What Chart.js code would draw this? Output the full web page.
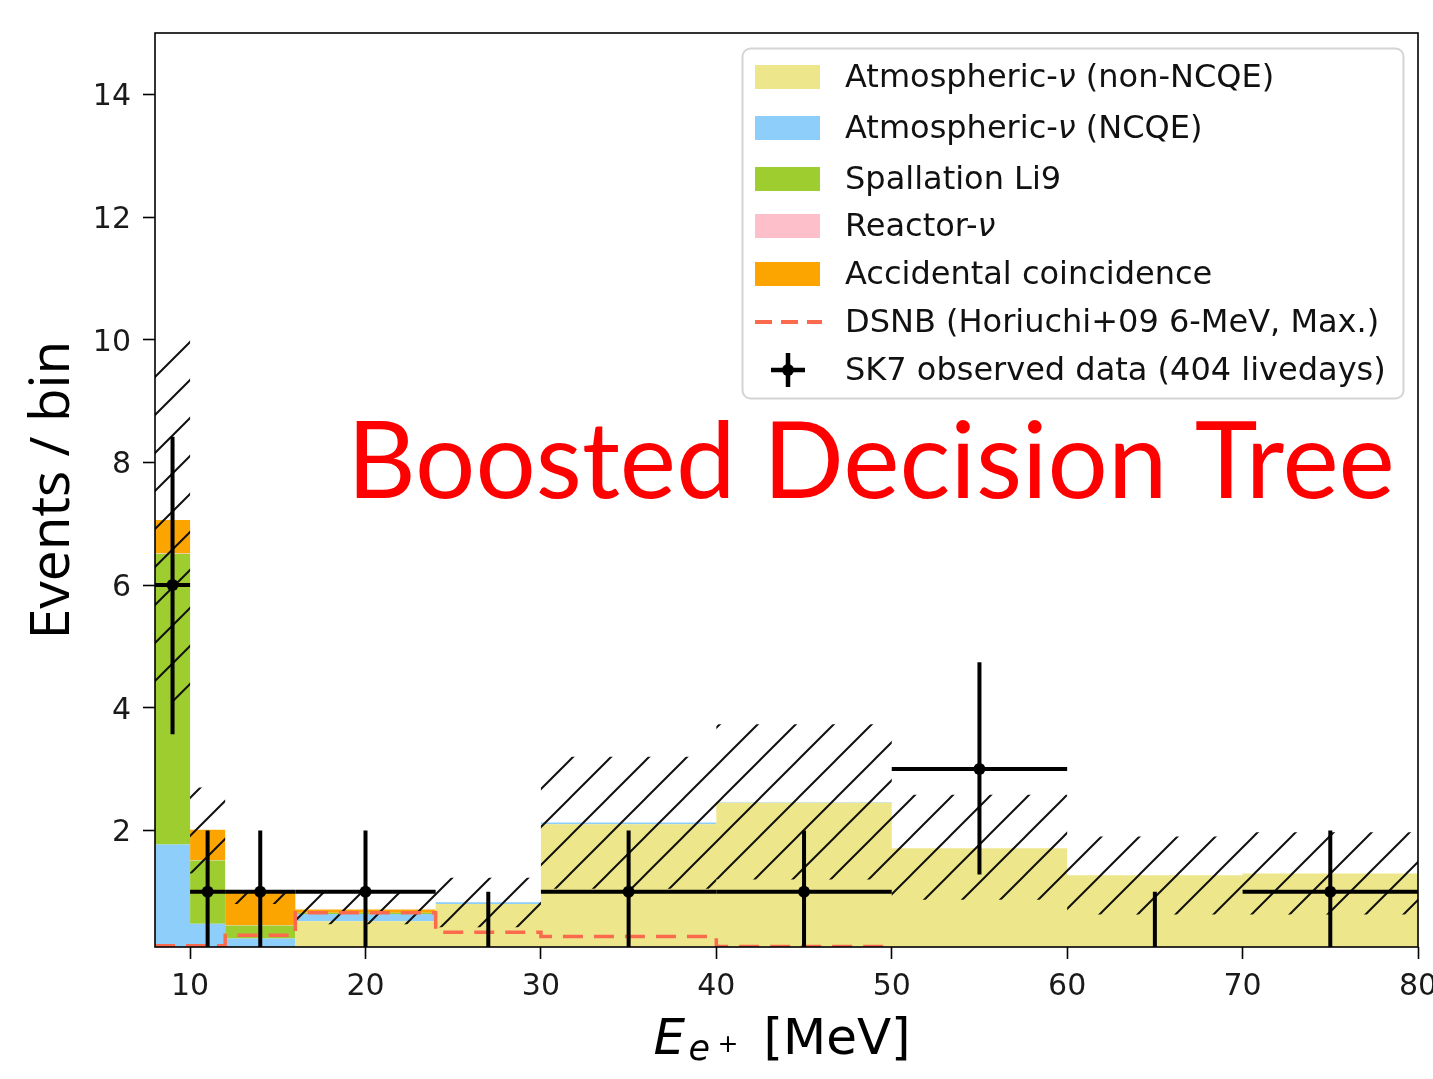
<!DOCTYPE html>
<html>
<head>
<meta charset="utf-8">
<script src="https://cdn.jsdelivr.net/npm/chart.js@4.4.1/dist/chart.umd.min.js"></script>
<style>
    html, body { margin: 0; padding: 0; background: #fff; }
    #wrap { width: 1433px; height: 1079px; }
</style>
</head>
<body>
<div id="wrap"><canvas id="myChart" width="1433" height="1079"></canvas></div>
<script>
// bin edges in MeV
const binEdges = [8, 10, 12, 16, 24, 30, 40, 50, 60, 70, 80];

// expected backgrounds per bin (stacked)
const atmNonNCQE = [0.01, 0.02, 0.02, 0.52, 0.80, 2.10, 2.45, 1.71, 1.27, 1.30];
const atmNCQE    = [1.76, 0.46, 0.22, 0.12, 0.03, 0.03, 0.01, 0.00, 0.00, 0.00];
const spallLi9   = [4.74, 1.03, 0.21, 0.02, 0.00, 0.00, 0.00, 0.00, 0.00, 0.00];
const reactorNu  = [0.01, 0.01, 0.01, 0.00, 0.00, 0.00, 0.00, 0.00, 0.00, 0.00];
const accidental = [0.54, 0.49, 0.55, 0.05, 0.00, 0.00, 0.00, 0.00, 0.00, 0.00];

// uncertainty band (hatched)
const bandLow  = [4.10, 1.30, 0.80, 0.47, 0.42, 1.05, 1.20, 0.87, 0.63, 0.63];
const bandHigh = [10.0, 2.70, 1.03, 0.98, 1.23, 3.20, 3.73, 2.58, 1.90, 1.97];

// signal model
const dsnb = [0.12, 0.12, 0.29, 0.66, 0.34, 0.27, 0.11, 0.06, 0.03, 0.02];

// observed data
const obsX     = [9, 11, 14, 20, 27, 35, 45, 55, 65, 75];
const obsY     = [6, 1, 1, 1, 0, 1, 1, 3, 0, 1];
const obsYLow  = [3.57, 0, 0, 0, 0, 0, 0, 1.28, 0, 0];
const obsYHigh = [8.42, 2, 2, 2, 1, 2, 2, 4.74, 1, 2];

const xTicks = [10, 20, 30, 40, 50, 60, 70, 80];
const yTicks = [2, 4, 6, 8, 10, 12, 14];

const legendRowY = [77, 128, 179, 226, 274, 322, 370];

// histogram values -> stepped line points (left edges + closing right edge)
const stepPoints = (values) => binEdges.map((x, i) => ({ x: x, y: values[Math.min(i, values.length - 1)] }));

const makeHatch = () => {
    const size = 38;
    const c = document.createElement('canvas');
    c.width = size;
    c.height = size;
    const g = c.getContext('2d');
    g.strokeStyle = '#111';
    g.lineWidth = 2;
    g.beginPath();
    g.moveTo(-2, size + 2); g.lineTo(size + 2, -2);
    g.moveTo(-2, 2); g.lineTo(2, -2);
    g.moveTo(size - 2, size + 2); g.lineTo(size + 2, size - 2);
    g.stroke();
    return g.createPattern(c, 'repeat');
};

const ctx = document.getElementById('myChart');

const histDataset = (label, values, color, order, fill) => ({
    label: label,
    data: stepPoints(values),
    stepped: 'before',
    stack: 'bg',
    order: order,
    fill: fill,
    backgroundColor: color,
    borderColor: 'rgba(0,0,0,0)',
    borderWidth: 0,
    pointRadius: 0,
    legendType: 'patch'
});

const errorBarPlugin = {
    id: 'errorBars',
    beforeDatasetDraw: (chart, args) => {
        const ds = chart.data.datasets[args.index];
        if (!ds.errorBars) return;
        const { ctx, chartArea: a, scales: { x, y } } = chart;
        ctx.save();
        ctx.beginPath();
        ctx.rect(a.left, a.top, a.right - a.left, a.bottom - a.top);
        ctx.clip();
        ctx.strokeStyle = '#000';
        ctx.lineWidth = 4;
        ds.data.forEach((p, i) => {
            const py = y.getPixelForValue(p.y);
            const px = x.getPixelForValue(p.x);
            ctx.beginPath();
            ctx.moveTo(x.getPixelForValue(binEdges[i]), py);
            ctx.lineTo(x.getPixelForValue(binEdges[i + 1]), py);
            ctx.moveTo(px, y.getPixelForValue(obsYLow[i]));
            ctx.lineTo(px, y.getPixelForValue(obsYHigh[i]));
            ctx.stroke();
        });
        ctx.restore();
    }
};

const framePlugin = {
    id: 'frame',
    afterDraw: (chart) => {
        const { ctx, chartArea: a } = chart;
        ctx.save();
        ctx.strokeStyle = '#000';
        ctx.lineWidth = 1.6;
        ctx.strokeRect(a.left, a.top, a.right - a.left, a.bottom - a.top);
        ctx.restore();
    }
};

const drawLabelText = (ctx, text, x, y) => {
    const parts = text.split('ν');
    let cx = x;
    parts.forEach((part, i) => {
        ctx.font = '32px "DejaVu Sans"';
        ctx.fillText(part, cx, y);
        cx += ctx.measureText(part).width;
        if (i < parts.length - 1) {
            ctx.font = 'italic 32px "DejaVu Sans"';
            ctx.fillText('ν', cx, y);
            cx += ctx.measureText('ν').width;
        }
    });
};

const legendPlugin = {
    id: 'boxLegend',
    afterDraw: (chart) => {
        const { ctx } = chart;
        const items = chart.data.datasets.filter(d => d.legendType);
        ctx.save();
        ctx.beginPath();
        ctx.roundRect(742.5, 48.5, 661, 350, 8);
        ctx.fillStyle = 'rgba(255,255,255,0.8)';
        ctx.fill();
        ctx.strokeStyle = '#d4d4d4';
        ctx.lineWidth = 2;
        ctx.stroke();
        items.forEach((d, i) => {
            const yc = legendRowY[i];
            if (d.legendType === 'patch') {
                ctx.fillStyle = d.backgroundColor;
                ctx.fillRect(755, yc - 12, 65, 24);
            } else if (d.legendType === 'dash') {
                ctx.strokeStyle = d.borderColor;
                ctx.lineWidth = 4;
                ctx.setLineDash([17, 9]);
                ctx.beginPath();
                ctx.moveTo(755, yc);
                ctx.lineTo(822, yc);
                ctx.stroke();
                ctx.setLineDash([]);
            } else if (d.legendType === 'cross') {
                ctx.strokeStyle = '#000';
                ctx.lineWidth = 4.5;
                ctx.beginPath();
                ctx.moveTo(771, yc); ctx.lineTo(805, yc);
                ctx.moveTo(788, yc - 17); ctx.lineTo(788, yc + 17);
                ctx.stroke();
                ctx.fillStyle = '#000';
                ctx.beginPath();
                ctx.arc(788, yc, 6, 0, Math.PI * 2);
                ctx.fill();
            }
            ctx.fillStyle = '#111';
            ctx.textBaseline = 'middle';
            ctx.textAlign = 'left';
            drawLabelText(ctx, d.label, 845, yc + 2);
        });
        ctx.restore();
    }
};

const textPlugin = {
    id: 'texts',
    afterDraw: (chart) => {
        const { ctx, chartArea: a } = chart;
        ctx.save();
        ctx.textAlign = 'left';
        ctx.textBaseline = 'alphabetic';

        // x axis title: E_{e^+} [MeV]
        ctx.fillStyle = '#000';
        const x0 = (a.left + a.right) / 2 - 133;
        const base = a.bottom + 107;
        ctx.font = 'italic 50px "DejaVu Sans"';
        ctx.fillText('E', x0, base);
        ctx.font = 'italic 35px "DejaVu Sans"';
        ctx.fillText('e', x0 + 35, base + 6);
        ctx.font = '25px "DejaVu Sans"';
        ctx.fillText('+', x0 + 64, base - 2);
        ctx.font = '50px "DejaVu Sans"';
        ctx.fillText('[MeV]', x0 + 110, base);

        // red annotation
        const label = 'Boosted Decision Tree';
        ctx.font = '100px Lato';
        const size = 100 * 1048 / ctx.measureText(label).width;
        ctx.font = size + 'px Lato';
        ctx.fillStyle = '#ff0000';
        ctx.fillText(label, 347, 498);
        ctx.restore();
    }
};

let chart = new Chart(ctx, {
    type: 'line',
    data: {
        datasets: [
            histDataset('Atmospheric-ν (non-NCQE)', atmNonNCQE, '#ede68a', 4, 'origin'),
            histDataset('Atmospheric-ν (NCQE)', atmNCQE, '#8ecefa', 5, '-1'),
            histDataset('Spallation Li9', spallLi9, '#9dcd2e', 6, '-1'),
            histDataset('Reactor-ν', reactorNu, '#fdc0cb', 7, '-1'),
            histDataset('Accidental coincidence', accidental, '#fca500', 8, '-1'),
            {
                label: 'band low',
                data: stepPoints(bandLow),
                stepped: 'before',
                stack: 'bandLow',
                order: 3,
                fill: false,
                borderColor: 'rgba(0,0,0,0)',
                borderWidth: 0,
                pointRadius: 0
            },
            {
                label: 'band high',
                data: stepPoints(bandHigh),
                stepped: 'before',
                stack: 'bandHigh',
                order: 2,
                fill: '-1',
                backgroundColor: makeHatch(),
                borderColor: 'rgba(0,0,0,0)',
                borderWidth: 0,
                pointRadius: 0
            },
            {
                label: 'DSNB (Horiuchi+09 6-MeV, Max.)',
                data: stepPoints(dsnb),
                stepped: 'before',
                stack: 'dsnb',
                order: 1,
                fill: false,
                borderColor: '#fb6a4c',
                borderWidth: 3.5,
                borderDash: [20, 11],
                pointRadius: 0,
                legendType: 'dash'
            },
            {
                label: 'SK7 observed data (404 livedays)',
                data: obsX.map((x, i) => ({ x: x, y: obsY[i] })),
                stack: 'data',
                order: 0,
                showLine: false,
                clip: 0,
                pointRadius: 6,
                pointBackgroundColor: '#000',
                pointBorderColor: '#000',
                pointBorderWidth: 0,
                errorBars: true,
                legendType: 'cross'
            }
        ]
    },
    options: {
        responsive: false,
        devicePixelRatio: 1,
        animation: false,
        events: [],
        layout: {
            padding: { top: 33, right: 15, left: 0, bottom: 0 }
        },
        plugins: {
            legend: { display: false },
            tooltip: { enabled: false }
        },
        scales: {
            x: {
                type: 'linear',
                min: 8,
                max: 80,
                afterBuildTicks: (scale) => { scale.ticks = xTicks.map(v => ({ value: v })); },
                afterFit: (scale) => { scale.height = 132; scale.paddingLeft = 0; scale.paddingRight = 0; },
                ticks: {
                    autoSkip: false,
                    maxRotation: 0,
                    padding: 10,
                    color: '#1a1a1a',
                    font: { family: 'DejaVu Sans', size: 30 }
                },
                grid: {
                    drawOnChartArea: false,
                    drawTicks: true,
                    tickLength: 12,
                    tickWidth: 1.6,
                    tickColor: '#000'
                },
                border: { display: false }
            },
            y: {
                type: 'linear',
                min: 0.1,
                max: 15,
                stacked: true,
                afterBuildTicks: (scale) => { scale.ticks = yTicks.map(v => ({ value: v })); },
                afterFit: (scale) => { scale.width = 155; scale.paddingTop = 0; scale.paddingBottom = 0; },
                ticks: {
                    padding: 12,
                    labelOffset: 3,
                    color: '#1a1a1a',
                    font: { family: 'DejaVu Sans', size: 30 }
                },
                grid: {
                    drawOnChartArea: false,
                    drawTicks: true,
                    tickLength: 12,
                    tickWidth: 1.6,
                    tickColor: '#000'
                },
                border: { display: false },
                title: {
                    display: true,
                    text: 'Events / bin',
                    color: '#000',
                    font: { family: 'Open Sans', size: 55 },
                    padding: { top: 20, bottom: 0 }
                }
            }
        }
    },
    plugins: [errorBarPlugin, framePlugin, legendPlugin, textPlugin]
});
</script>
</body>
</html>
